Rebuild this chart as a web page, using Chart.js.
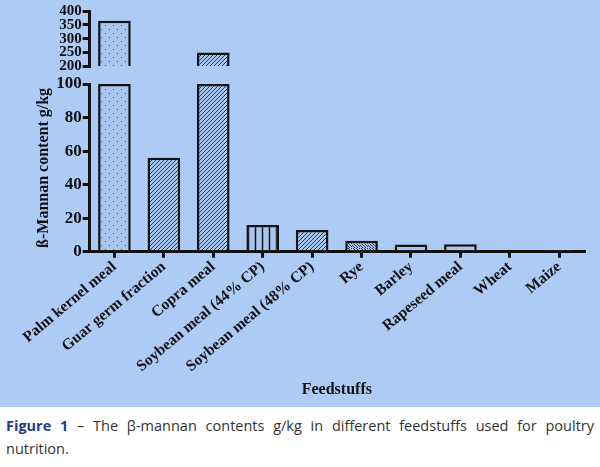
<!DOCTYPE html>
<html><head><meta charset="utf-8">
<script src="https://cdn.jsdelivr.net/npm/chart.js@4/dist/chart.umd.min.js"></script>
<style>
body{margin:0;width:600px;height:467px;background:#fff;overflow:hidden}
#wrap{position:absolute;left:0;top:0;width:600px;height:407px;background:#aecbf5}
#cap{position:absolute;left:6px;top:414px;width:588px;font-family:"Open Sans";font-size:14.5px;line-height:23px;color:#333;text-align:justify;text-align-last:left}
#cap b{color:#1f3c88}
</style></head><body>
<div id="wrap"><canvas id="c" width="600" height="407"></canvas></div>
<div id="cap"><b>Figure 1</b> – The β-mannan contents g/kg in different feedstuffs used for poultry nutrition.</div>
<script>
const categories=["Palm kernel meal","Guar germ fraction","Copra meal","Soybean meal (44% CP)","Soybean meal (48% CP)","Rye","Barley","Rapeseed meal","Wheat","Maize"];
const values=[365,56,250,16,13,6.5,4.3,4.5,1,0.6];
const lowerTicks=[0,20,40,60,80,100];
const upperTicks=[200,250,300,350,400];
const patternKinds=["dots","diag","diag","vert","diag2","back","hdots","dashdiag","diag","diag"];

function pat(kind){
  const c=document.createElement('canvas');c.width=8;c.height=8;const g=c.getContext('2d');
  g.fillStyle='#a9c6ee';g.fillRect(0,0,8,8);g.strokeStyle='#333';g.fillStyle='#555';g.lineWidth=1;
  if(kind==='dots'){g.fillRect(1,1,1,1);g.fillRect(5,5,1,1);}
  else if(kind==='diag'){c.width=4;c.height=4;g.fillStyle='#a9c6ee';g.fillRect(0,0,4,4);g.strokeStyle='#333';g.beginPath();g.moveTo(0,4);g.lineTo(4,0);g.moveTo(-1,1);g.lineTo(1,-1);g.moveTo(3,5);g.lineTo(5,3);g.stroke();}
  else if(kind==='diag2'){g.beginPath();for(let i=-8;i<16;i+=4){g.moveTo(i,8);g.lineTo(i+8,0);}g.stroke();}
  else if(kind==='back'){g.beginPath();for(let i=-8;i<16;i+=3){g.moveTo(i,0);g.lineTo(i+8,8);}g.stroke();}
  else if(kind==='vert'){c.width=7;g.fillStyle='#a9c6ee';g.fillRect(0,0,7,8);g.strokeStyle='#111';g.lineWidth=1.5;g.beginPath();g.moveTo(3.5,0);g.lineTo(3.5,8);g.stroke();}
  else if(kind==='hdots'){g.fillRect(2,4,2,1);}
  else if(kind==='dashdiag'){g.beginPath();g.moveTo(1,6);g.lineTo(4,2);g.moveTo(5,7);g.lineTo(8,3);g.stroke();}
  return document.getElementById('c').getContext('2d').createPattern(c,'repeat');
}
const fills=patternKinds.map(pat);
const lowerData=values.map(v=>Math.min(v,100));
const upperData=values.map(v=>v>=200?v:null);
const tf={family:"Liberation Serif",size:17,weight:"bold"};
const common={type:'linear',position:'left',stack:'s',
  border:{color:'#111',width:3},
  grid:{drawOnChartArea:false,color:'#111',lineWidth:3,tickLength:7},
  ticks:{color:'#111',font:tf,padding:1,autoSkip:false}};
new Chart(document.getElementById('c'),{
  type:'bar',
  data:{labels:categories,datasets:[
    {data:lowerData,yAxisID:'y',backgroundColor:fills,borderColor:'#111',borderWidth:2.5,grouped:false,barPercentage:0.66,categoryPercentage:1},
    {data:upperData,yAxisID:'yTop',backgroundColor:fills,borderColor:'#111',borderWidth:{top:2.5,left:2.5,right:2.5,bottom:0},grouped:false,barPercentage:0.66,categoryPercentage:1}
  ]},
  options:{responsive:false,animation:false,
    layout:{padding:{left:30,right:16,top:4,bottom:4}},
    plugins:{legend:{display:false},tooltip:{enabled:false}},
    scales:{
      x:{border:{color:'#111',width:3},grid:{drawOnChartArea:false,color:'#111',lineWidth:3,tickLength:6,offset:false},
        ticks:{color:'#111',font:{family:"Liberation Serif",size:15.5,weight:"bold"},maxRotation:40,minRotation:40,padding:0,autoSkip:false},
        title:{display:true,text:'Feedstuffs',color:'#111',font:{family:"Liberation Serif",size:16,weight:"bold"},padding:{top:4}}},
      y:{...common,min:0,max:100,stackWeight:168,
        afterBuildTicks:a=>{a.ticks=lowerTicks.map(v=>({value:v}));},
        title:{display:true,text:'ß-Mannan content g/kg',color:'#111',font:{family:"Liberation Serif",size:16,weight:"bold"},padding:{bottom:2}}},
      yGap:{type:'linear',position:'left',stack:'s',stackWeight:18,min:0,max:1,
        border:{display:false},grid:{display:false},ticks:{display:false}},
      yTop:{...common,min:200,max:400,stackWeight:55,
        afterBuildTicks:a=>{a.ticks=upperTicks.map(v=>({value:v}));},
        ticks:{...common.ticks,font:{...tf,size:15},padding:1}}
    }}
});
</script></body></html>
